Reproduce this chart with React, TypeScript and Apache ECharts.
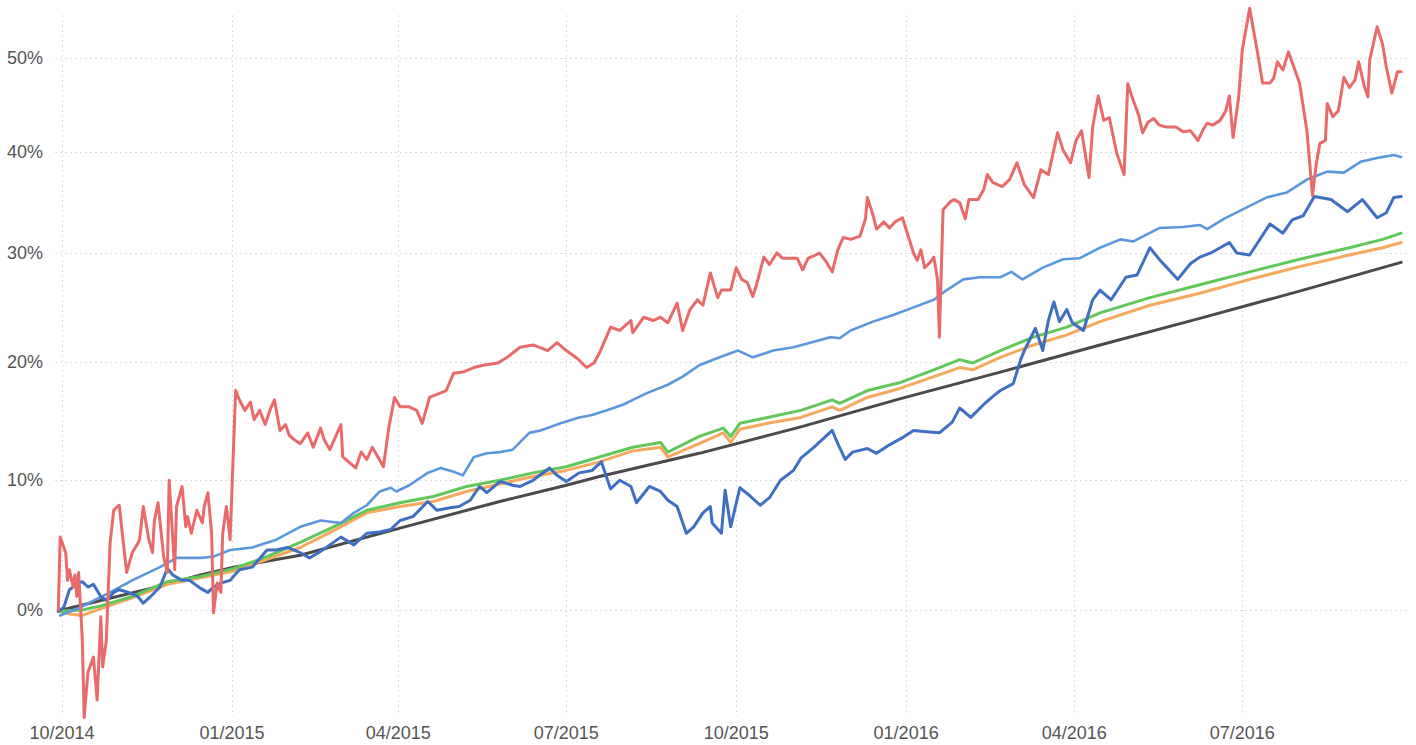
import React, { useEffect, useRef } from "react";
import * as echarts from "echarts";

// Day 0 = 2014-10-01; values are cumulative returns in %
const START = Date.UTC(2014, 9, 1);
const DAY = 86400000;

const xTickDates = ["2014-10-01", "2015-01-01", "2015-04-01", "2015-07-01", "2015-10-01", "2016-01-01", "2016-04-01", "2016-07-01"];
const yTickPct = [0, 10, 20, 30, 40, 50];

// [days since 2014-10-01, return %]
const redSeries: [number, number][] = [
  [-2, 0.0], [-1, 5.5], [2, 4.3], [3, 2.2], [4, 3.0], [6, 1.7], [7, 2.6], [8, 1.0], [9, 2.8], [11, -2.2], [12, -7.6], [14, -4.5], [17, -3.4], [19, -6.4], [21, -0.5], [22, -4.1], [24, -2.2], [26, 5.0], [28, 7.6], [30, 7.9], [31, 8.0], [33, 5.3], [35, 2.8], [38, 4.3], [41, 5.0], [42, 5.3], [44, 7.9], [47, 5.3], [49, 4.3], [50, 6.8], [52, 8.2], [55, 4.0], [57, 2.8], [58, 10.0], [61, 3.0], [62, 7.9], [65, 9.5], [67, 6.3], [68, 7.1], [70, 5.8], [73, 7.6], [76, 6.6], [77, 7.9], [79, 9.0], [81, 5.8], [82, -0.2], [84, 2.0], [86, 1.3], [87, 5.8], [89, 7.9], [91, 5.3], [93, 13.3], [94, 17.5],
  [96, 16.7], [99, 15.8], [102, 16.5], [104, 15.0], [107, 15.8], [110, 14.6], [113, 16.0], [115, 16.7], [118, 14.1], [121, 14.6], [123, 13.7], [126, 13.3], [129, 13.0], [133, 13.9], [136, 12.7], [140, 14.3], [142, 13.3], [145, 12.5], [151, 14.6], [152, 11.9], [159, 11.0], [162, 12.3], [165, 11.7], [168, 12.7], [171, 11.9], [174, 11.1], [177, 14.4], [180, 16.9], [183, 16.1], [188, 16.1], [192, 15.8], [195, 14.7], [199, 16.9], [205, 17.3], [208, 17.5], [212, 19.0], [217, 19.1], [223, 19.5], [228, 19.7], [236, 19.9], [241, 20.4], [248, 21.3], [255, 21.5], [263, 21.0], [268, 21.7], [273, 21.0], [279, 20.3], [284, 19.5], [288, 19.9], [291, 20.8], [297, 23.1], [302, 22.8], [308, 23.7], [309, 22.6], [315, 24.0], [320, 23.7], [324, 24.0], [328, 23.5], [333, 25.3], [336, 22.8], [340, 24.7], [344, 25.6], [347, 25.1], [351, 28.1], [355, 25.8], [357, 26.5], [362, 26.5], [365, 28.6], [368, 27.5], [371, 27.2], [374, 25.9], [376, 27.0], [380, 29.6], [383, 28.9], [387, 30.0], [390, 29.5], [394, 29.5], [398, 29.5], [401, 28.4], [404, 29.5], [408, 29.8], [410, 30.0], [414, 29.1], [417, 28.2], [420, 30.3], [423, 31.5], [427, 31.3], [430, 31.5], [432, 31.6], [435, 33.3], [436, 35.4], [439, 33.7], [441, 32.3], [445, 33.0], [448, 32.4], [451, 33.0], [455, 33.4], [458, 31.7], [461, 30.0], [463, 29.3], [465, 30.3], [467, 28.6], [470, 29.1], [472, 29.6], [474, 27.5], [475, 22.2], [477, 34.2], [481, 35.0], [483, 35.2], [486, 34.9], [489, 33.3], [491, 35.2], [496, 35.2], [499, 36.2], [501, 37.7], [504, 36.9], [509, 36.5], [513, 37.2], [517, 38.9], [521, 36.7], [526, 35.4], [530, 38.2], [534, 37.7], [539, 42.0], [542, 40.2], [546, 38.9], [549, 41.2], [552, 42.2], [556, 37.4], [558, 42.6], [561, 45.9], [564, 43.3], [567, 43.6], [571, 39.9], [575, 37.7], [577, 47.2], [580, 45.4], [583, 43.8], [585, 42.0], [588, 43.1], [591, 43.5], [594, 42.8], [598, 42.6], [603, 42.6], [607, 42.1], [611, 42.2], [615, 41.2], [618, 42.4], [620, 43.0], [623, 42.8], [627, 43.3], [630, 44.3], [632, 45.9], [634, 41.5], [637, 45.7], [639, 50.9], [643, 55.6], [645, 53.2], [647, 50.9], [650, 47.3], [654, 47.3], [656, 47.8], [658, 49.6], [661, 48.7], [664, 50.7], [668, 48.4], [670, 47.3], [674, 42.2], [677, 35.6], [679, 38.7], [681, 40.9], [684, 41.2], [685, 45.1], [688, 43.7], [691, 44.3], [694, 47.9], [697, 46.8], [700, 47.6], [702, 49.6], [705, 47.0], [707, 45.8], [708, 49.8], [712, 53.5], [715, 51.5], [717, 49.0], [720, 46.2], [723, 48.5], [725, 48.5],
];

const darkBlueSeries: [number, number][] = [
  [-2, -0.1], [1, 0.2], [4, 1.5], [9, 2.0], [11, 2.1], [14, 1.7], [17, 1.9], [21, 1.0], [24, 0.7], [28, 1.3], [31, 1.5], [36, 1.3], [41, 1.0], [44, 0.5], [48, 1.0], [53, 1.7], [57, 3.1], [60, 2.6], [65, 2.2], [69, 2.2], [75, 1.6], [79, 1.3], [82, 1.7], [86, 2.0], [91, 2.2], [96, 3.0], [103, 3.2], [111, 4.5], [116, 4.5], [122, 4.7], [129, 4.3], [134, 3.9], [140, 4.4], [151, 5.5], [158, 4.9], [165, 5.8], [172, 5.9], [178, 6.1], [183, 6.8], [190, 7.1], [198, 8.3], [203, 7.6], [210, 7.8], [215, 7.9], [221, 8.4], [226, 9.5], [230, 9.0], [237, 9.9], [244, 9.6], [248, 9.5], [255, 10.0], [264, 11.0], [268, 10.4], [273, 9.9], [280, 10.6], [287, 10.8], [292, 11.5], [297, 9.3], [302, 10.0], [308, 9.5], [311, 8.2], [318, 9.5], [324, 9.1], [328, 8.4], [333, 7.9], [338, 5.8], [342, 6.3], [347, 7.4], [351, 7.9], [352, 6.6], [357, 5.8], [359, 9.2], [362, 6.3], [367, 9.4], [372, 8.8], [378, 8.0], [383, 8.6], [389, 10.0], [396, 10.8], [400, 11.8], [407, 12.7], [417, 14.1], [420, 13.0], [424, 11.7], [428, 12.3], [436, 12.6], [441, 12.2], [448, 12.9], [455, 13.5], [461, 14.1], [468, 14.0], [475, 13.9], [482, 14.8], [486, 16.0], [492, 15.2], [499, 16.3], [504, 17.0], [508, 17.5], [515, 18.1], [519, 20.2], [521, 21.0], [527, 23.0], [531, 21.0], [534, 23.7], [537, 25.4], [540, 23.6], [544, 24.7], [547, 23.5], [553, 22.8], [558, 25.6], [562, 26.5], [568, 25.6], [576, 27.7], [582, 27.9], [589, 30.5], [594, 29.4], [604, 27.5], [611, 29.0], [616, 29.6], [622, 30.0], [632, 31.0], [636, 30.0], [643, 29.8], [654, 32.8], [661, 31.9], [666, 33.2], [672, 33.6], [678, 35.5], [687, 35.2], [696, 34.0], [704, 35.2], [712, 33.4], [717, 33.9], [721, 35.4], [725, 35.5],
];

const lightBlueSeries: [number, number][] = [
  [-1, -0.4], [10, 0.2], [26, 1.3], [38, 2.2], [53, 3.2], [62, 3.9], [75, 3.9], [82, 4.0], [91, 4.5], [103, 4.7], [116, 5.3], [129, 6.3], [140, 6.8], [151, 6.6], [158, 7.4], [165, 8.0], [172, 9.1], [178, 9.4], [181, 9.1], [188, 9.6], [198, 10.6], [205, 11.0], [212, 10.7], [217, 10.4], [223, 11.9], [230, 12.2], [237, 12.3], [244, 12.5], [253, 13.9], [259, 14.1], [270, 14.7], [280, 15.2], [287, 15.4], [295, 15.8], [304, 16.3], [309, 16.7], [317, 17.3], [328, 18.0], [336, 18.7], [345, 19.7], [356, 20.4], [366, 21.0], [374, 20.4], [385, 21.0], [396, 21.3], [405, 21.7], [416, 22.2], [421, 22.1], [427, 22.8], [439, 23.6], [450, 24.2], [461, 24.9], [472, 25.6], [479, 26.5], [488, 27.5], [497, 27.7], [508, 27.7], [514, 28.2], [520, 27.5], [531, 28.6], [542, 29.4], [551, 29.5], [562, 30.5], [573, 31.3], [580, 31.1], [594, 32.4], [607, 32.5], [616, 32.7], [620, 32.3], [629, 33.3], [639, 34.2], [652, 35.4], [663, 35.9], [674, 37.2], [685, 38.0], [694, 37.9], [703, 39.0], [712, 39.4], [721, 39.7], [725, 39.5],
];

const greenSeries: [number, number][] = [
  [-2, -0.1], [11, 0.0], [21, 0.3], [38, 1.0], [57, 2.1], [75, 2.5], [93, 3.1], [111, 4.0], [129, 5.1], [147, 6.3], [165, 7.6], [183, 8.2], [201, 8.7], [219, 9.5], [237, 10.0], [255, 10.6], [273, 11.1], [291, 11.9], [309, 12.7], [324, 13.1], [328, 12.3], [345, 13.6], [358, 14.3], [362, 13.6], [367, 14.7], [382, 15.2], [400, 15.8], [417, 16.7], [421, 16.4], [436, 17.5], [454, 18.2], [472, 19.3], [486, 20.2], [493, 19.9], [508, 21.0], [526, 22.2], [544, 23.1], [562, 24.4], [589, 25.8], [616, 27.0], [643, 28.2], [670, 29.4], [697, 30.5], [715, 31.3], [725, 31.9],
];

const orangeSeries: [number, number][] = [
  [-2, -0.1], [4, -0.3], [11, -0.4], [21, 0.1], [38, 0.9], [57, 1.9], [75, 2.4], [93, 2.9], [111, 3.8], [129, 4.7], [147, 6.0], [165, 7.4], [183, 7.9], [201, 8.3], [219, 9.1], [237, 9.7], [255, 10.3], [273, 10.8], [291, 11.5], [309, 12.4], [324, 12.7], [328, 11.9], [345, 13.0], [358, 13.9], [362, 13.1], [367, 14.2], [382, 14.7], [400, 15.2], [417, 16.1], [421, 15.8], [436, 16.9], [454, 17.7], [472, 18.7], [486, 19.5], [493, 19.3], [508, 20.4], [526, 21.5], [544, 22.4], [562, 23.6], [589, 25.1], [616, 26.2], [643, 27.5], [670, 28.7], [697, 29.8], [715, 30.5], [725, 31.0],
];

const blackSeries: [number, number][] = [
  [0, 0.0], [21, 0.7], [48, 1.6], [75, 2.6], [93, 3.2], [129, 4.1], [183, 6.2], [237, 8.3], [273, 9.6], [291, 10.3], [345, 12.2], [400, 14.4], [454, 16.8], [508, 19.1], [562, 21.5], [616, 23.9], [670, 26.4], [725, 29.1],
];

const toPoints = (s: [number, number][]) => s.map(([d, p]) => [d, Math.log(1 + p / 100)]);

const App: React.FC = () => {
  const ref = useRef<HTMLDivElement>(null);
  useEffect(() => {
    if (!ref.current) return;
    const chart = echarts.init(ref.current, null, { renderer: "svg" });
    const xTicks = xTickDates.map((s) => Math.round((Date.parse(s + "T00:00:00Z") - START) / DAY));
    const yTicks = yTickPct.map((p) => Math.log(1 + p / 100));
    const gridLine = { show: true, lineStyle: { color: "#dcdcdc", width: 1, type: [2, 3] as any } };
    const line = (name: string, data: [number, number][], color: string, width: number, z: number) => ({
      name,
      type: "line",
      data: toPoints(data),
      showSymbol: false,
      symbol: "none",
      clip: false,
      z,
      lineStyle: { color, width, cap: "round", join: "round" },
    });
    chart.setOption({
      animation: false,
      backgroundColor: "#ffffff",
      grid: { left: 55, right: 6, top: 15, bottom: 29, containLabel: false },
      xAxis: {
        type: "value",
        min: -3.8,
        max: 729.8,
        axisLine: { show: false },
        axisTick: { show: false, customValues: xTicks },
        splitLine: gridLine,
        axisLabel: {
          customValues: xTicks,
          formatter: (v: number) => {
            const d = new Date(START + v * DAY);
            const m = d.getUTCMonth() + 1;
            return (m < 10 ? "0" + m : "" + m) + "/" + d.getUTCFullYear();
          },
          fontSize: 18,
          color: "#555",
          fontFamily: "Liberation Sans, Arial, sans-serif",
          margin: 8,
          showMinLabel: true,
          showMaxLabel: true,
        },
      },
      yAxis: {
        type: "value",
        min: -0.0779,
        max: 0.4372,
        axisLine: { show: false },
        axisTick: { show: false, customValues: yTicks },
        splitLine: gridLine,
        axisLabel: {
          customValues: yTicks,
          formatter: (v: number) => Math.round((Math.exp(v) - 1) * 100) + "%",
          fontSize: 18,
          color: "#555",
          fontFamily: "Liberation Sans, Arial, sans-serif",
          margin: 12,
        },
      },
      series: [
        line("Black", blackSeries, "#4a4a4a", 3, 1),
        line("Orange", orangeSeries, "#f5a85e", 3, 2),
        line("Green", greenSeries, "#62c75a", 3, 3),
        line("Light blue", lightBlueSeries, "#5b97dc", 2.6, 4),
        line("Dark blue", darkBlueSeries, "#3f6fc2", 3, 5),
        line("Red", redSeries, "#e86a6b", 3, 6),
      ],
    });
    return () => chart.dispose();
  }, []);
  return (
    <div
      ref={ref}
      style={{ position: "fixed", left: 0, top: 0, width: 1416, height: 745, background: "#fff" }}
    />
  );
};

export default App;
